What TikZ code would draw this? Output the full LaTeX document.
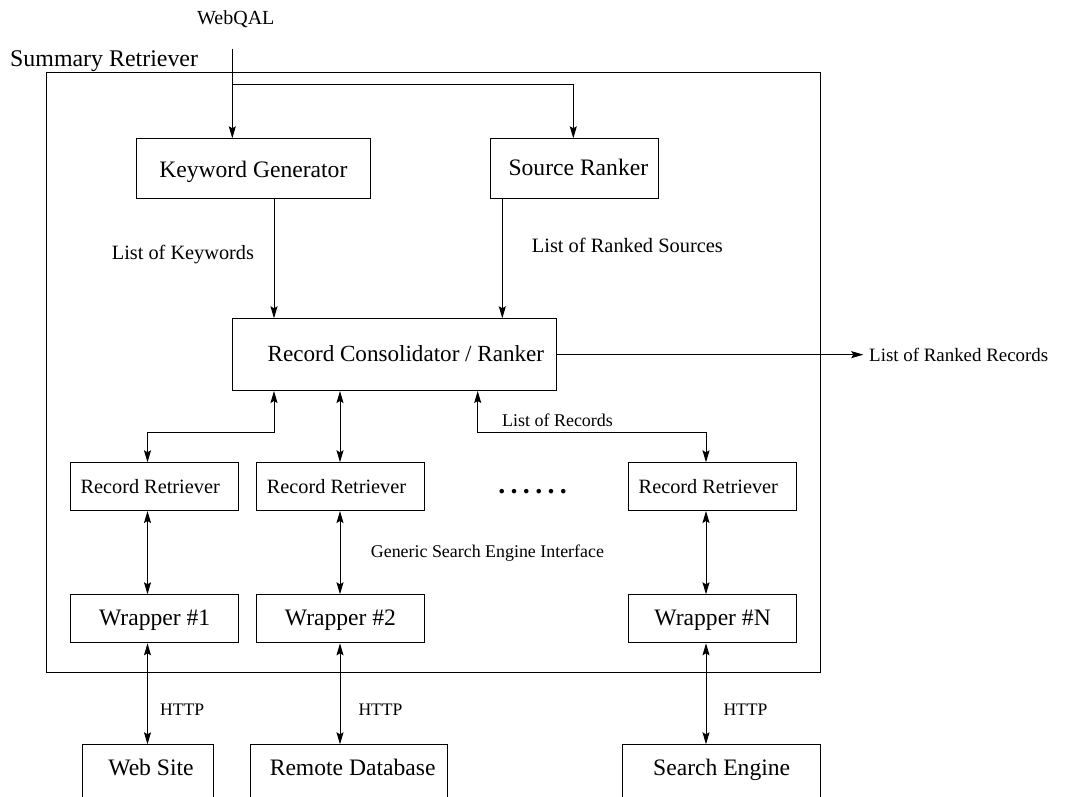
\documentclass[tikz,border=0pt]{standalone}
\usepackage{fontspec}
\setmainfont{Liberation Serif}
\usetikzlibrary{arrows.meta}
\newcommand\fsz[1]{\fontsize{#1}{#1}\selectfont}
\begin{document}
\begin{tikzpicture}[x=1pt,y=-1pt,
  box/.style={draw, line width=1pt, inner xsep=0pt, inner ysep=0pt, anchor=north west},
  lab/.style={inner sep=0pt, anchor=base west},
  tip/.tip={Stealth[length=12pt,width=7pt,inset=2pt]},
  arr/.style={line width=1pt, -tip},
  darr/.style={line width=1pt, tip-tip},
  line/.style={line width=1pt}]
\useasboundingbox (0,0) rectangle (1071,797);
\clip (0,0) rectangle (1071,797);

% outer box
\node[box, minimum width=774pt, minimum height=599.8pt] (outer) at (45.7,72.5) {};
\node[lab, font=\fsz{23.9}] (srlab) at (10,66.7) {Summary Retriever};

% top boxes
\node[box, font=\fsz{23.6}, minimum width=234.3pt, text height=38.4pt, text depth=21.6pt] (KG) at (135.7,138.3) {Keyword Generator};
\node[box, font=\fsz{23.6}, minimum width=167.7pt, text height=36.7pt, text depth=22.7pt] (SR) at (490,138.3) {\hspace*{8pt}Source Ranker};
\node[box, font=\fsz{23.1}, minimum width=323.7pt, text height=42.7pt, text depth=29pt] (RC) at (232,318.3) {\hspace*{23pt}Record Consolidator / Ranker};

% record retrievers
\node[box, font=\fsz{20.3}, minimum width=168.3pt, text height=30.4pt, text depth=17.3pt] (RR1) at (70,462.3) {Record Retriever\hspace*{9pt}};
\node[box, font=\fsz{20.3}, minimum width=168pt, text height=30.4pt, text depth=17.3pt] (RR2) at (256,462.3) {Record Retriever\hspace*{8pt}};
\node[box, font=\fsz{20.3}, minimum width=168.3pt, text height=30.4pt, text depth=17.3pt] (RR3) at (627.7,462.3) {Record Retriever\hspace*{8pt}};
\node[lab, font=\fsz{28}\bfseries] (dots) at (498.2,493.5) {.\hspace{5.3pt}.\hspace{5.3pt}.\hspace{5.3pt}.\hspace{5.3pt}.\hspace{5.3pt}.};

% wrappers
\node[box, font=\fsz{23.6}, minimum width=168.3pt, text height=30.7pt, text depth=17.3pt] (W1) at (70,594.3) {Wrapper \#1};
\node[box, font=\fsz{23.6}, minimum width=168pt, text height=30.7pt, text depth=17.3pt] (W2) at (256,594.3) {Wrapper \#2};
\node[box, font=\fsz{23.6}, minimum width=167.7pt, text height=30.7pt, text depth=17.3pt] (WN) at (628.3,594.3) {Wrapper \#N};

% external sources
\node[box, font=\fsz{23.6}, minimum width=131.6pt, text height=30.7pt, text depth=60pt] (WS) at (81.7,744.3) {\hspace*{6pt}Web Site};
\node[box, font=\fsz{23.6}, minimum width=197.3pt, text height=30.7pt, text depth=60pt] (RD) at (250,744.3) {\hspace*{7pt}Remote Database};
\node[box, font=\fsz{23.6}, minimum width=197.7pt, text height=30.7pt, text depth=60pt] (SE) at (622.3,744.3) {Search Engine};

% labels
\node[lab, font=\fsz{20}] (wq) at (197,25) {WebQAL};
\node[lab, font=\fsz{20.3}] (lk) at (111.7,259) {List of Keywords};
\node[lab, font=\fsz{20.4}] (lrs) at (531.7,252.7) {List of Ranked Sources};
\node[lab, font=\fsz{18.9}] (lrr) at (869,361) {List of Ranked Records};
\node[lab, font=\fsz{17.95}] (lr) at (502,426.7) {List of Records};
\node[lab, font=\fsz{17.9}] (gsei) at (370.7,557.3) {Generic Search Engine Interface};
\node[lab, font=\fsz{17.6}] (h1) at (160,715) {HTTP};
\node[lab, font=\fsz{17.6}] (h2) at (358.3,715) {HTTP};
\node[lab, font=\fsz{17.6}] (h3) at (723.3,715) {HTTP};

% helper coordinates
\coordinate (wqtop) at (232.3,49);
\coordinate (br) at (232.3,84.3);
\coordinate (srx) at (573.3,0);
\coordinate (kgx) at (274,0);
\coordinate (srdx) at (502.3,0);
\coordinate (out) at (863.3,0);
\coordinate (bend) at (0,432.3);
\coordinate (r1) at (274,0);
\coordinate (r3) at (477.7,0);
\coordinate (c1) at (147.5,0);
\coordinate (c2) at (340,0);
\coordinate (c3) at (706,0);

% connectors
\draw[arr] (wqtop) -- (wqtop |- KG.north);
\draw[arr] (br) -| (SR.north -| srx);
\draw[arr] (KG.south -| kgx) -- (RC.north -| kgx);
\draw[arr] (SR.south -| srdx) -- (RC.north -| srdx);
\draw[arr] (RC.east) -- (RC.east -| out);

\draw[darr] (RC.south -| r1) |- (bend -| c1) -- (RR1.north -| c1);
\draw[darr] (RC.south -| c2) -- (RR2.north -| c2);
\draw[darr] (RC.south -| r3) |- (bend -| c3) -- (RR3.north -| c3);

\draw[darr] (RR1.south -| c1) -- (W1.north -| c1);
\draw[darr] (RR2.south -| c2) -- (W2.north -| c2);
\draw[darr] (RR3.south -| c3) -- (WN.north -| c3);

\draw[darr] (W1.south -| c1) -- (WS.north -| c1);
\draw[darr] (W2.south -| c2) -- (RD.north -| c2);
\draw[darr] (WN.south -| c3) -- (SE.north -| c3);
\end{tikzpicture}
\end{document}
